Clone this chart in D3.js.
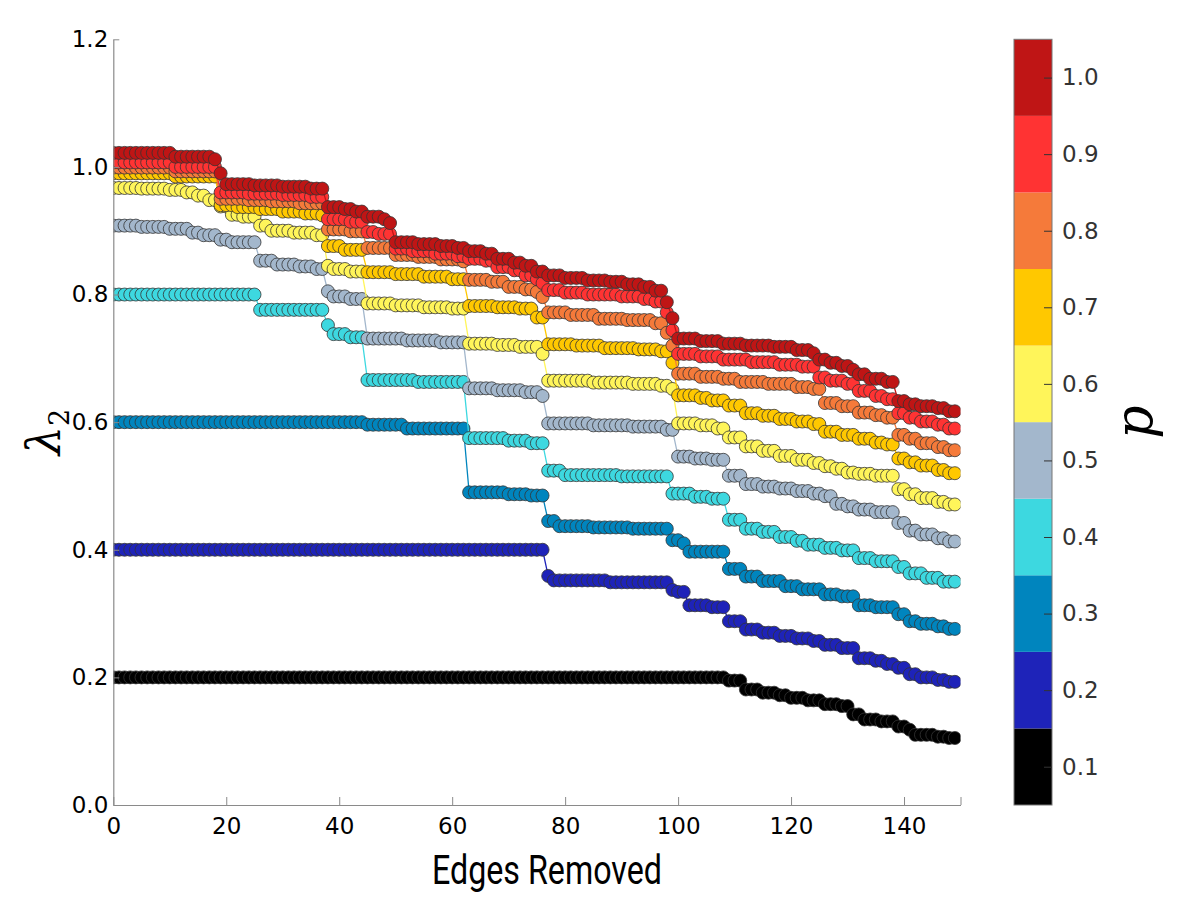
<!DOCTYPE html>
<html><head><meta charset="utf-8">
<script src="https://cdn.jsdelivr.net/npm/d3@7"></script>
<style>body{margin:0;background:#fff}</style>
</head><body><svg id="chart" width="1200" height="900"></svg>
<script>
// ---- data ----
const pValues = [0.1,0.2,0.3,0.4,0.5,0.6,0.7,0.8,0.9,1.0];
const seriesColors = ["#000000","#1e23b9","#0085be","#3dd8e0","#a3b7cc","#fff55a","#ffc800","#f57a3a","#ff3333","#bf1515"];
const xTickValues = [0,20,40,60,80,100,120,140,150];
const xTickLabels = ["0","20","40","60","80","100","120","140",""];
const yTickValues = [0.0,0.2,0.4,0.6,0.8,1.0,1.2];
const nPoints = 150;
// each entry: [first index of a run, lambda_2 value held from that index]
const steps_p01 = [[0,0.2],[109,0.195],[112,0.181],[115,0.176],[118,0.172],[120,0.168],[123,0.164],[126,0.158],[129,0.155],[131,0.142],[133,0.134],[136,0.131],[139,0.123],[141,0.118],[142,0.11],[146,0.107],[148,0.105]];
const steps_p02 = [[0,0.4],[77,0.359],[78,0.352],[88,0.349],[99,0.337],[100,0.334],[102,0.313],[106,0.31],[109,0.288],[112,0.275],[115,0.27],[118,0.265],[121,0.261],[124,0.257],[126,0.251],[129,0.246],[132,0.23],[135,0.226],[137,0.221],[139,0.215],[141,0.205],[143,0.2],[146,0.196],[148,0.193]];
const steps_p03 = [[0,0.6],[45,0.596],[52,0.59],[63,0.49],[70,0.487],[74,0.485],[77,0.445],[79,0.437],[85,0.435],[92,0.433],[99,0.415],[101,0.41],[102,0.397],[109,0.37],[112,0.358],[115,0.351],[119,0.343],[122,0.338],[126,0.33],[129,0.327],[132,0.313],[135,0.31],[139,0.299],[141,0.288],[143,0.284],[146,0.28],[148,0.276]];
const steps_p04 = [[0,0.8],[26,0.776],[38,0.752],[39,0.738],[42,0.733],[45,0.666],[54,0.663],[63,0.575],[70,0.571],[74,0.567],[77,0.524],[80,0.517],[90,0.515],[99,0.488],[103,0.483],[106,0.48],[109,0.447],[112,0.433],[115,0.428],[118,0.42],[121,0.414],[123,0.408],[126,0.403],[129,0.399],[132,0.387],[135,0.382],[139,0.373],[141,0.363],[144,0.356],[147,0.35]];
const steps_p05 = [[0,0.908],[5,0.906],[10,0.903],[14,0.897],[16,0.893],[19,0.886],[21,0.882],[26,0.853],[29,0.847],[33,0.844],[36,0.84],[38,0.805],[39,0.797],[42,0.793],[45,0.731],[52,0.728],[58,0.725],[63,0.653],[68,0.65],[73,0.647],[76,0.641],[77,0.598],[85,0.595],[92,0.593],[98,0.588],[100,0.546],[103,0.543],[106,0.541],[109,0.516],[112,0.503],[115,0.499],[118,0.496],[121,0.492],[124,0.488],[126,0.484],[128,0.472],[130,0.468],[132,0.463],[135,0.459],[139,0.442],[141,0.43],[143,0.424],[146,0.418],[148,0.413]];
const steps_p06 = [[0,0.967],[5,0.966],[10,0.964],[13,0.96],[15,0.955],[17,0.948],[19,0.938],[21,0.925],[23,0.922],[26,0.908],[28,0.9],[32,0.897],[36,0.893],[38,0.845],[39,0.84],[42,0.836],[45,0.786],[50,0.783],[55,0.78],[60,0.778],[63,0.723],[68,0.721],[72,0.718],[76,0.707],[77,0.665],[85,0.662],[92,0.66],[97,0.657],[99,0.652],[100,0.598],[104,0.595],[107,0.59],[109,0.576],[112,0.562],[115,0.555],[118,0.547],[121,0.541],[124,0.536],[126,0.531],[128,0.527],[130,0.521],[132,0.519],[135,0.516],[139,0.495],[141,0.487],[143,0.481],[146,0.475],[148,0.471]];
const steps_p07 = [[0,0.99],[11,0.985],[19,0.94],[22,0.937],[26,0.934],[30,0.93],[34,0.927],[37,0.924],[38,0.876],[41,0.87],[45,0.835],[50,0.832],[55,0.828],[60,0.824],[63,0.782],[68,0.78],[72,0.778],[75,0.764],[77,0.722],[82,0.72],[87,0.716],[93,0.714],[97,0.711],[99,0.693],[100,0.642],[104,0.638],[106,0.634],[109,0.626],[112,0.614],[115,0.61],[118,0.605],[121,0.601],[124,0.597],[126,0.585],[129,0.58],[132,0.574],[135,0.568],[137,0.565],[139,0.543],[141,0.537],[143,0.532],[146,0.525],[148,0.52]];
const steps_p08 = [[0,0.999],[11,0.993],[19,0.95],[24,0.948],[28,0.946],[33,0.943],[38,0.902],[42,0.899],[45,0.873],[50,0.862],[54,0.859],[58,0.855],[62,0.852],[63,0.823],[67,0.82],[70,0.812],[73,0.808],[75,0.804],[76,0.796],[77,0.772],[81,0.768],[86,0.762],[91,0.76],[96,0.755],[98,0.74],[99,0.72],[100,0.676],[104,0.671],[108,0.668],[111,0.663],[116,0.66],[121,0.655],[124,0.652],[126,0.63],[129,0.625],[132,0.615],[135,0.611],[137,0.607],[139,0.58],[141,0.574],[143,0.567],[146,0.561],[148,0.556]];
const steps_p09 = [[0,1.007],[11,1.0],[19,0.96],[24,0.958],[30,0.956],[35,0.953],[38,0.918],[42,0.914],[45,0.898],[47,0.895],[50,0.872],[53,0.868],[57,0.864],[61,0.86],[63,0.856],[66,0.853],[68,0.843],[71,0.838],[73,0.83],[75,0.824],[76,0.818],[77,0.807],[80,0.803],[84,0.8],[90,0.797],[94,0.793],[96,0.789],[98,0.772],[99,0.744],[100,0.707],[104,0.703],[108,0.698],[113,0.694],[118,0.69],[122,0.687],[125,0.67],[127,0.665],[130,0.66],[132,0.649],[135,0.641],[137,0.636],[139,0.614],[141,0.607],[143,0.601],[146,0.596],[148,0.59]];
const steps_p10 = [[0,1.022],[11,1.016],[18,1.012],[19,0.99],[20,0.973],[25,0.971],[30,0.969],[35,0.966],[38,0.937],[41,0.934],[43,0.93],[45,0.922],[48,0.918],[49,0.912],[50,0.882],[54,0.879],[58,0.876],[61,0.873],[63,0.868],[66,0.864],[68,0.856],[71,0.85],[73,0.845],[75,0.836],[77,0.83],[80,0.826],[84,0.822],[88,0.82],[91,0.816],[94,0.812],[96,0.806],[98,0.788],[99,0.763],[100,0.731],[104,0.727],[108,0.723],[112,0.72],[117,0.718],[121,0.713],[124,0.708],[125,0.698],[127,0.693],[129,0.688],[131,0.682],[132,0.675],[134,0.668],[137,0.663],[139,0.633],[141,0.628],[143,0.625],[146,0.622],[148,0.617]];
const stepSeries = [steps_p01,steps_p02,steps_p03,steps_p04,steps_p05,steps_p06,steps_p07,steps_p08,steps_p09,steps_p10];

function expand(steps){
  const out=[]; let k=0;
  for(let i=0;i<nPoints;i++){
    while(k+1<steps.length && steps[k+1][0]<=i) k++;
    out.push({x:i,y:steps[k][1]});
  }
  return out;
}

// ---- drawing ----
const svg = d3.select('#chart');
const x = d3.scaleLinear().domain([0,150]).range([113.3,960.5]);
const y = d3.scaleLinear().domain([0,1.2]).range([805,39.3]);
const font = "'DejaVu Sans', sans-serif";

svg.append('defs').append('clipPath').attr('id','plotclip').append('rect')
  .attr('x',x(0)).attr('y',y(1.2)).attr('width',x(150)-x(0)).attr('height',y(0)-y(1.2));

const plot = svg.append('g').attr('clip-path','url(#plotclip)');
const line = d3.line().x(d=>x(d.x)).y(d=>y(d.y));
stepSeries.forEach((steps,si)=>{
  const pts = expand(steps);
  const g = plot.append('g');
  g.append('path').attr('d',line(pts)).attr('fill','none')
    .attr('stroke',seriesColors[si]).attr('stroke-width',1.3);
  g.selectAll('circle').data(pts).join('circle')
    .attr('cx',d=>x(d.x)).attr('cy',d=>y(d.y)).attr('r',6.5)
    .attr('fill',seriesColors[si]).attr('stroke','#333').attr('stroke-width',0.8);
});

// axes
const yAxis = d3.axisLeft(y).tickValues(yTickValues).tickFormat(d3.format('.1f'))
  .tickSizeInner(-6).tickSizeOuter(0).tickPadding(5);
const gy = svg.append('g').attr('transform','translate(113.3,0)').call(yAxis);
const xAxis = d3.axisBottom(x).tickValues(xTickValues).tickFormat((d,i)=>xTickLabels[i])
  .tickSizeInner(-8).tickSizeOuter(0).tickPadding(13);
const gx = svg.append('g').attr('transform','translate(0,805)').call(xAxis);
[gx,gy].forEach(g=>{
  g.select('.domain').attr('stroke','#8a8a8a').attr('stroke-width',1.2);
  g.selectAll('.tick line').attr('stroke','#8a8a8a');
  g.selectAll('.tick text').attr('fill','#000').style('font-family',font).style('font-size','23px');
});

// axis titles
svg.append('text').attr('x',547).attr('y',884).attr('text-anchor','middle')
  .attr('textLength',230).attr('lengthAdjust','spacingAndGlyphs')
  .style('font-family',"Roboto, 'Open Sans', sans-serif").style('font-size','40px').attr('fill','#000')
  .text('Edges Removed');
const yl = svg.append('text').attr('transform','translate(60,432) rotate(-90)').attr('text-anchor','middle')
  .style('font-family',"'DejaVu Serif', serif").style('font-size','46px').attr('fill','#000');
yl.append('tspan').style('font-style','italic').text('λ');
yl.append('tspan').attr('dy',9).style('font-size','27px').text('2');

// colorbar
const cb = d3.scaleLinear().domain([0.05,1.05]).range([805,39.3]);
const gcb = svg.append('g');
gcb.selectAll('rect.band').data(pValues).join('rect').attr('class','band')
  .attr('x',1014).attr('width',38)
  .attr('y',d=>cb(d+0.05)).attr('height',d=>cb(d-0.05)-cb(d+0.05))
  .attr('fill',(d,i)=>seriesColors[i]);
gcb.append('rect').attr('x',1014).attr('y',cb(1.05)).attr('width',38).attr('height',cb(0.05)-cb(1.05))
  .attr('fill','none').attr('stroke','#777').attr('stroke-width',1);
const cbAxis = d3.axisRight(cb).tickValues(pValues).tickFormat(d3.format('.1f'))
  .tickSizeInner(-8).tickSizeOuter(0).tickPadding(10);
const gca = svg.append('g').attr('transform','translate(1052,0)').call(cbAxis);
gca.select('.domain').remove();
gca.selectAll('.tick line').attr('stroke','#333');
gca.selectAll('.tick text').attr('fill','#333').style('font-family',font).style('font-size','23px');
svg.append('text').attr('transform','translate(1152,422) rotate(-90)').attr('text-anchor','middle')
  .style('font-family',"'DejaVu Serif', serif").style('font-style','italic').style('font-size','52px')
  .attr('fill','#000').text('p');
</script></body></html>
